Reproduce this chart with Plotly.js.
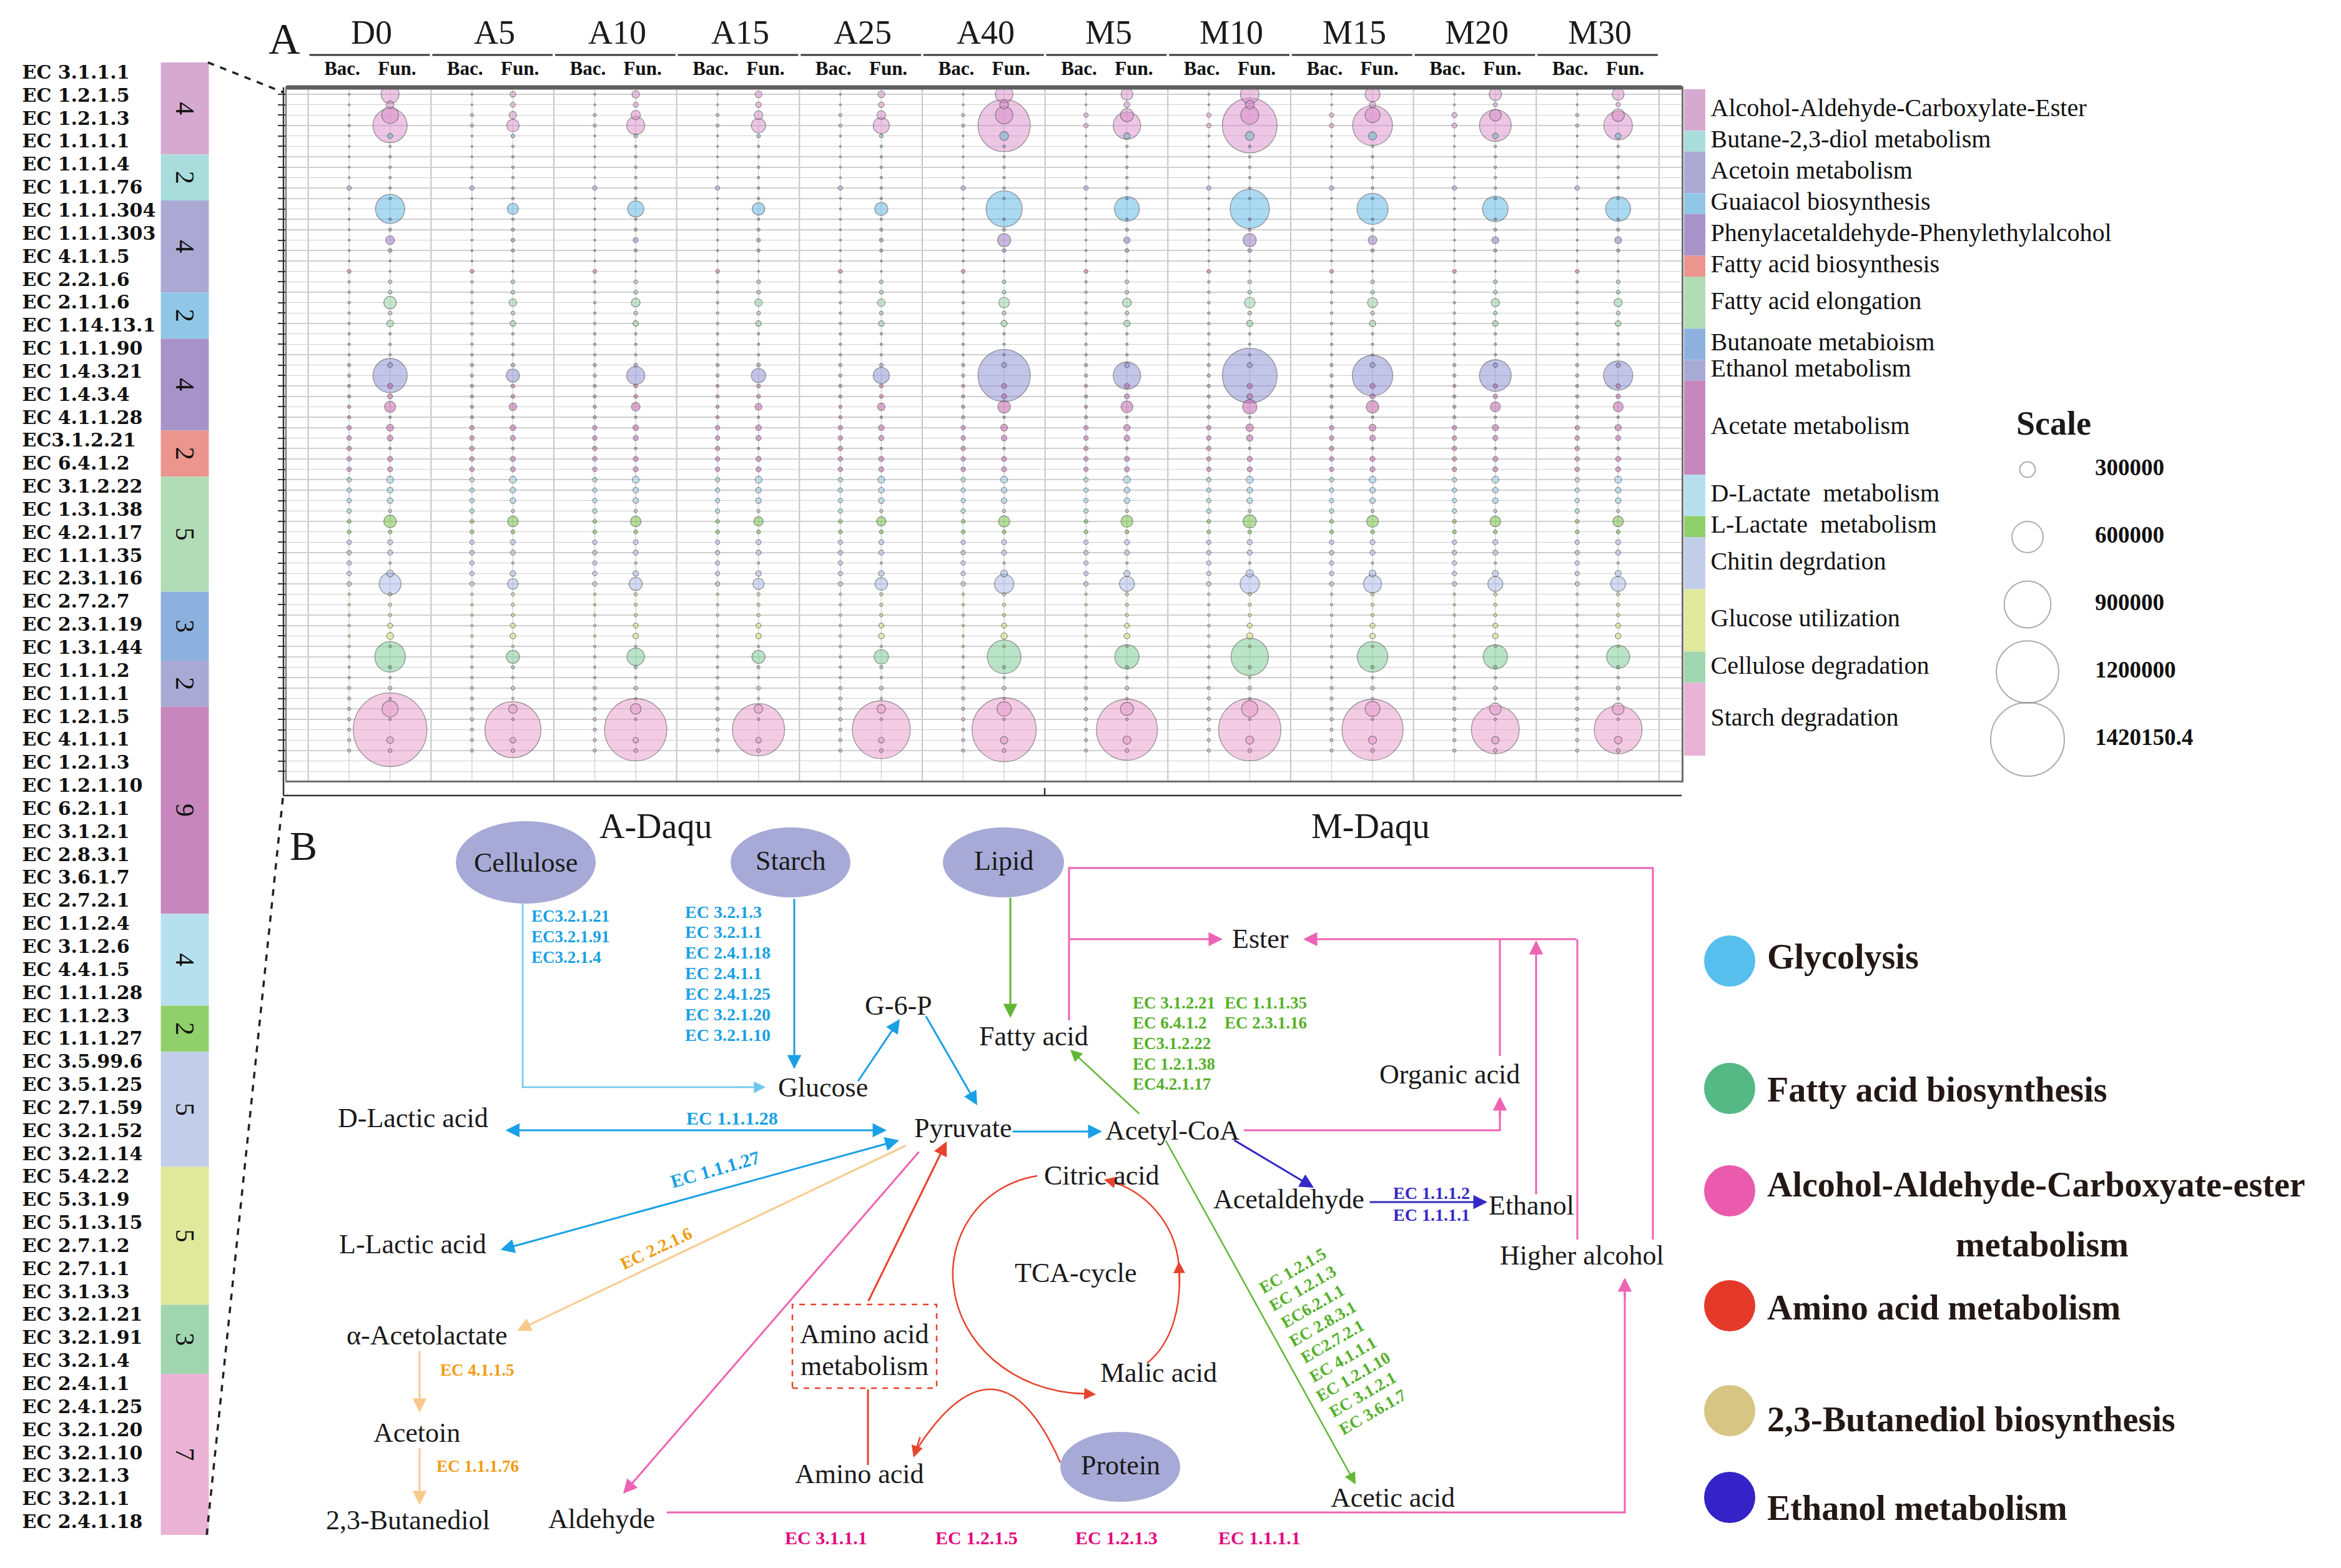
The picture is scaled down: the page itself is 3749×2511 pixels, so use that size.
<!DOCTYPE html>
<html><head><meta charset="utf-8">
<script src="https://cdn.plot.ly/plotly-3.0.1.min.js"></script>
<style>html,body{margin:0;padding:0;background:#fff}</style>
</head><body><div id="chart" style="width:3749px;height:2511px"></div>
<script>
// ===================== DATA =====================
const samples = ['D0','A5','A10','A15','A25','A40','M5','M10','M15','M20','M30'];
const fractionLabels = ['Bac.','Fun.'];
const daquGroups = ['A-Daqu','M-Daqu'];

const ecLabels = ['EC 3.1.1.1','EC 1.2.1.5','EC 1.2.1.3','EC 1.1.1.1','EC 1.1.1.4','EC 1.1.1.76','EC 1.1.1.304','EC 1.1.1.303','EC 4.1.1.5','EC 2.2.1.6',
 'EC 2.1.1.6','EC 1.14.13.1','EC 1.1.1.90','EC 1.4.3.21','EC 1.4.3.4','EC 4.1.1.28','EC3.1.2.21','EC 6.4.1.2','EC 3.1.2.22','EC 1.3.1.38',
 'EC 4.2.1.17','EC 1.1.1.35','EC 2.3.1.16','EC 2.7.2.7','EC 2.3.1.19','EC 1.3.1.44','EC 1.1.1.2','EC 1.1.1.1','EC 1.2.1.5','EC 4.1.1.1',
 'EC 1.2.1.3','EC 1.2.1.10','EC 6.2.1.1','EC 3.1.2.1','EC 2.8.3.1','EC 3.6.1.7','EC 2.7.2.1','EC 1.1.2.4','EC 3.1.2.6','EC 4.4.1.5',
 'EC 1.1.1.28','EC 1.1.2.3','EC 1.1.1.27','EC 3.5.99.6','EC 3.5.1.25','EC 2.7.1.59','EC 3.2.1.52','EC 3.2.1.14','EC 5.4.2.2','EC 5.3.1.9',
 'EC 5.1.3.15','EC 2.7.1.2','EC 2.7.1.1','EC 3.1.3.3','EC 3.2.1.21','EC 3.2.1.91','EC 3.2.1.4','EC 2.4.1.1','EC 2.4.1.25','EC 3.2.1.20',
 'EC 3.2.1.10','EC 3.2.1.3','EC 3.2.1.1','EC 2.4.1.18'];

const groupNames = ['Alcohol-Aldehyde-Carboxylate-Ester','Butane-2,3-diol metabolism','Acetoin metabolism','Guaiacol biosynthesis',
 'Phenylacetaldehyde-Phenylethylalcohol','Fatty acid biosynthesis','Fatty acid elongation','Butanoate metabioism','Ethanol metabolism',
 'Acetate metabolism','D-Lactate \u00a0metabolism','L-Lactate \u00a0metabolism','Chitin degrdation','Glucose utilization',
 'Cellulose degradation','Starch degradation'];
const groupCounts = [4,2,4,2,4,2,5,3,2,9,4,2,5,6,3,7];
const groupCountLabels = ['4','2','4','2','4','2','5','3','2','9','4','2','5','5','3','7'];

// bubble values (abundance, in thousands)
const UNIT = 1000;
const D0_Bac  = [36,36,36,48,36,36,36,36,36,84, 36,36,36,36,36,36,36,72,48,48, 48,48,48,48,48,48,60,60,60,60, 60,60,84,84,84,84,84,84,84,84, 84,72,72,84,84,84,84,84,48,48, 48,48,48,48,48,48,48,60,60,60, 60,60,60,60];
const A5_Bac  = [36,36,60,60,36,36,36,36,36,84, 36,36,36,36,36,36,36,72,48,48, 48,48,48,48,48,48,60,60,60,60, 60,60,84,84,84,84,84,84,84,84, 84,72,72,84,84,84,84,84,48,48, 48,48,48,48,48,48,48,60,60,60, 60,60,60,60];
const A10_Bac = [36,36,60,60,36,36,36,36,36,84, 36,36,36,36,36,36,36,72,48,48, 48,48,48,48,48,48,60,60,60,60, 60,60,84,84,84,84,84,84,84,84, 84,72,72,84,84,84,84,84,48,48, 48,48,48,48,48,48,48,60,60,60, 60,60,60,60];
const A15_Bac = [36,36,60,60,36,36,36,36,36,84, 36,36,36,36,36,36,36,72,48,48, 48,48,48,48,48,48,60,60,60,60, 60,60,84,84,84,84,84,84,84,84, 84,72,72,84,84,84,84,84,48,48, 48,48,48,48,48,48,48,60,60,60, 60,60,60,60];
const A25_Bac = [36,36,60,60,36,36,36,36,36,84, 36,36,36,36,36,36,36,72,48,48, 48,48,48,48,48,48,60,60,60,60, 60,60,84,84,84,84,84,84,84,84, 84,72,72,84,84,84,84,84,48,48, 48,48,48,48,48,48,48,60,60,60, 60,60,60,60];
const A40_Bac = [36,36,60,60,36,36,36,36,36,84, 36,36,36,36,36,36,36,72,48,48, 48,48,48,48,48,48,60,60,60,60, 60,60,84,84,84,84,84,84,84,84, 84,72,72,84,84,84,84,84,48,48, 48,48,48,48,48,48,48,60,60,60, 60,60,60,60];
const M5_Bac  = [36,36,84,84,36,36,36,36,36,84, 36,36,36,36,36,36,36,72,48,48, 48,48,48,48,48,48,60,60,60,60, 60,60,84,84,84,84,84,84,84,84, 84,72,72,84,84,84,84,84,48,48, 48,48,48,48,48,48,48,60,60,60, 60,60,60,60];
const M10_Bac = [36,36,84,84,36,36,36,36,36,84, 36,36,36,36,36,36,36,72,48,48, 48,48,48,48,48,48,60,60,60,60, 60,60,84,84,84,84,84,84,84,84, 84,72,72,84,84,84,84,84,48,48, 48,48,48,48,48,48,48,60,60,60, 60,60,60,60];
const M15_Bac = [36,36,84,84,36,36,36,36,36,84, 36,36,36,36,36,36,36,72,48,48, 48,48,48,48,48,48,60,60,60,60, 60,60,84,84,84,84,84,84,84,84, 84,72,72,84,84,84,84,84,48,48, 48,48,48,48,48,48,48,60,60,60, 60,60,60,60];
const M20_Bac = [36,36,96,96,36,36,36,36,36,84, 36,36,36,36,36,36,36,72,48,48, 48,48,48,48,48,48,60,60,60,60, 60,60,84,84,84,84,84,84,84,84, 84,72,72,84,84,84,84,84,48,48, 48,48,48,48,48,48,48,60,60,60, 60,60,60,60];
const M30_Bac = [36,36,60,60,36,36,36,36,36,84, 36,36,36,36,36,36,36,72,48,48, 48,48,48,48,48,48,60,60,60,60, 60,60,84,84,84,84,84,84,84,84, 84,72,72,84,84,84,84,84,48,48, 48,48,48,48,48,48,48,60,60,60, 60,60,60,60];

const D0_Fun  = [348,144,324,660,96,48,48,48,48,48, 48,564,48,60,168,72,36,36,72,72, 240,72,132,48,48,48,96,660,96,96, 216,48,132,108,48,96,96,132,108,108, 60,240,72,96,96,48,132,420,60,60, 60,96,132,48,588,60,48,72,48,312, 48,1420.1504,132,72];
const A5_Fun  = [108,96,144,240,72,48,48,48,48,48, 48,216,48,60,72,60,36,36,72,72, 144,72,108,48,48,48,72,252,72,72, 144,48,108,96,48,96,96,132,108,108, 60,204,72,96,96,48,108,204,60,60, 60,96,108,48,252,60,48,72,48,168, 48,1080,108,72];
const A10_Fun = [144,96,180,348,72,48,48,48,48,48, 48,312,48,60,96,60,36,36,72,72, 168,72,108,48,48,48,72,348,72,72, 168,48,108,96,48,96,96,132,108,108, 60,204,72,96,96,48,108,252,60,60, 60,96,108,48,336,60,48,72,48,204, 48,1200,108,72];
const A15_Fun = [132,108,168,276,72,48,48,48,48,48, 48,240,48,60,72,60,36,36,72,72, 144,72,108,48,48,48,72,276,72,72, 132,48,108,96,48,96,96,132,108,108, 60,180,72,96,96,48,108,216,60,60, 60,96,108,48,252,60,48,72,48,168, 48,1008,108,72];
const A25_Fun = [132,108,168,312,72,48,48,48,48,48, 48,252,48,60,72,60,36,36,72,72, 144,72,108,48,48,48,72,312,72,72, 144,48,108,96,48,96,96,132,108,108, 60,180,72,96,96,48,108,240,60,60, 60,96,108,48,276,60,48,72,48,168, 48,1116,108,72];
const A40_Fun = [336,168,336,1008,168,48,48,48,48,48, 48,696,48,60,252,72,36,36,72,72, 204,72,120,48,48,48,96,1008,96,96, 240,48,132,108,48,96,96,132,108,108, 60,216,72,96,96,48,132,372,60,60, 60,96,120,48,648,60,48,72,48,276, 48,1236,144,72];
const M5_Fun  = [228,108,252,528,120,48,48,48,48,48, 48,480,48,60,120,72,36,36,72,72, 168,72,120,48,48,48,96,528,96,96, 228,48,120,108,48,96,96,132,108,108, 60,228,72,96,96,48,120,288,60,60, 60,96,108,48,468,60,48,72,48,252, 48,1176,156,72];
const M10_Fun = [360,168,348,1056,168,48,48,48,48,48, 48,756,48,60,252,72,36,36,72,72, 204,72,120,48,48,48,96,1056,96,108, 276,48,144,120,48,96,96,132,108,108, 60,252,72,96,96,48,144,372,60,60, 60,96,120,48,720,60,48,72,48,312, 48,1200,156,72];
const M15_Fun = [288,120,288,768,156,48,48,48,48,48, 48,600,48,60,168,60,36,36,72,72, 192,72,120,48,48,48,96,780,96,96, 240,48,132,108,48,96,96,132,108,108, 60,228,72,96,96,48,132,348,60,60, 60,96,108,48,588,60,48,72,48,288, 48,1176,156,72];
const M20_Fun = [240,84,228,612,108,48,48,48,48,48, 48,492,48,60,132,60,36,36,72,72, 156,72,108,48,48,48,84,612,84,84, 192,48,120,96,48,96,96,132,108,108, 60,204,72,96,96,48,120,288,60,60, 60,96,108,48,468,60,48,72,48,228, 48,924,144,72];
const M30_Fun = [228,84,240,552,108,48,48,48,48,48, 48,480,48,60,132,60,36,36,72,72, 156,72,108,48,48,48,84,564,84,84, 192,48,120,96,48,96,96,132,108,108, 60,204,72,96,96,48,120,288,60,60, 60,96,108,48,444,60,48,72,48,228, 48,924,144,72];

const scaleValues = [300000, 600000, 900000, 1200000, 1420150.4];

const pathwayLegendNames = ['Glycolysis','Fatty acid biosynthesis','Alcohol-Aldehyde-Carboxyate-ester<br>metabolism','Amino acid metabolism','2,3-Butanediol biosynthesis','Ethanol metabolism'];

// ===================== STYLE =====================
const W = 3749, H = 2511;
const SERIF = 'Liberation Serif, Times New Roman, serif';
const groupBoxColors = ['#d6a9d0','#a9dddb','#aba8d4','#90c7e7','#a893c8','#ec948e','#b2dcb5','#8db1de','#a9a9d5','#c787bc','#b7e0ee','#90d06a','#c2cee9','#e0e89c','#9fd6af','#eab3d6'];
const groupBubbleColors = ['#d98fca','#5dc4cf','#9e97d3','#5db5e6','#9576c2','#e4675b','#8fd39f','#7aa0da','#8a8ed3','#c45aa9','#8fd2ea','#6cc23b','#a6b9e8','#d8e46a','#79cb91','#e89bcb'];
const pathwayLegendColors = ['#56bfee','#55b985','#ea5aad','#e5392a','#d6c583','#3523c8'];

const bacSeries = [D0_Bac,A5_Bac,A10_Bac,A15_Bac,A25_Bac,A40_Bac,M5_Bac,M10_Bac,M15_Bac,M20_Bac,M30_Bac];
const funSeries = [D0_Fun,A5_Fun,A10_Fun,A15_Fun,A25_Fun,A40_Fun,M5_Fun,M10_Fun,M15_Fun,M20_Fun,M30_Fun];

const groupStarts = []; let acc = 0;
groupCounts.forEach(c => { groupStarts.push(acc); acc += c; });
const rowGroup = [];
groupCounts.forEach((c, g) => { for (let i = 0; i < c; i++) rowGroup.push(g); });

function hexA(hex, a) {
  const r = parseInt(hex.slice(1,3),16), g = parseInt(hex.slice(3,5),16), b = parseInt(hex.slice(5,7),16);
  return `rgba(${r},${g},${b},${a})`;
}

const pts = [];
samples.forEach((s, k) => {
  [bacSeries[k], funSeries[k]].forEach((arr, f) => {
    arr.forEach((v, r) => pts.push({x: 3*k + 1 + f, y: r, v: v, c: groupBubbleColors[rowGroup[r]]}));
  });
});
pts.sort((a, b) => b.v - a.v);
const maxV = Math.max(...pts.map(p => p.v));
const SIZEREF = maxV / 118;

const tickVals = [], tickText = [];
samples.forEach((s, k) => { fractionLabels.forEach((f, j) => { tickVals.push(3*k + 0.83 + 1.34*j); tickText.push('<b>' + f + '</b>'); }); });

const traces = [];
traces.push({
  type: 'scatter', mode: 'markers', xaxis: 'x', yaxis: 'y', hoverinfo: 'skip',
  x: pts.map(p => p.x), y: pts.map(p => p.y),
  marker: {size: pts.map(p => p.v), sizemode: 'diameter', sizeref: SIZEREF, sizemin: 0,
    color: pts.map(p => hexA(p.c, 0.72)), line: {width: 1.3, color: 'rgba(60,60,60,0.75)'}}
});
traces.push({
  type: 'scatter', mode: 'text', xaxis: 'x2', yaxis: 'y2', hoverinfo: 'skip', cliponaxis: false,
  x: ecLabels.map(() => 0.005), y: ecLabels.map((e, i) => i), text: ecLabels.map(e => '<b>' + e + '</b>'),
  textposition: 'middle right', textfont: {family: 'DejaVu Serif, serif', size: 30, color: '#111'}
});
traces.push({
  type: 'bar', xaxis: 'x2', yaxis: 'y2', hoverinfo: 'skip',
  x: groupCounts.map(() => 0.845), y: groupCounts, base: groupStarts.map(s => s - 0.5), width: 0.248,
  marker: {color: groupBoxColors, line: {width: 0}},
  text: groupCountLabels, textposition: 'inside', insidetextanchor: 'middle', textangle: 90, constraintext: 'none',
  textfont: {family: SERIF, size: 42, color: '#111'}
});
traces.push({
  type: 'bar', xaxis: 'x3', yaxis: 'y3', hoverinfo: 'skip',
  x: groupCounts.map(() => 0), y: groupCounts, base: groupStarts.map(s => s - 0.5), width: 1,
  marker: {color: groupBoxColors, line: {width: 0}}
});
traces.push({
  type: 'scatter', mode: 'text', xaxis: 'x3', yaxis: 'y3', hoverinfo: 'skip', cliponaxis: false,
  x: groupNames.map(() => 0.75), y: groupStarts.map((s, g) => s + (groupCounts[g] - 1) / 2),
  text: groupNames, textposition: 'middle right', textfont: {family: SERIF, size: 40, color: '#111'}
});
traces.push({
  type: 'scatter', mode: 'markers', xaxis: 'x4', yaxis: 'y4', hoverinfo: 'skip', cliponaxis: false,
  x: scaleValues.map(() => 0), y: scaleValues.map((v, i) => i),
  marker: {size: scaleValues.map(v => v / UNIT), sizemode: 'diameter', sizeref: SIZEREF,
    color: 'rgba(255,255,255,0)', line: {width: 2, color: '#8a8a8a'}}
});
traces.push({
  type: 'scatter', mode: 'text', xaxis: 'x4', yaxis: 'y4', hoverinfo: 'skip', cliponaxis: false,
  x: scaleValues.map(() => 2), y: scaleValues.map((v, i) => i), text: scaleValues.map(v => '<b>' + String(v) + '</b>'),
  textposition: 'middle right', textfont: {family: SERIF, size: 37, color: '#111'}
});

// ===================== LAYOUT HELPERS =====================
const X = px => px / W, Y = py => 1 - py / H;
const P = (x, y) => X(x) + ',' + Y(y);
const shapes = [], annos = [];
function line(x1, y1, x2, y2, color, width = 3, dash = 'solid') {
  shapes.push({type: 'line', xref: 'paper', yref: 'paper', x0: X(x1), y0: Y(y1), x1: X(x2), y1: Y(y2), line: {color, width, dash}});
}
function poly(points, color, width = 3, dash = 'solid') {
  shapes.push({type: 'path', xref: 'paper', yref: 'paper', path: 'M' + points.map(p => P(p[0], p[1])).join(' L'), line: {color, width, dash}});
}
function pathD(d, color, width = 3) {
  shapes.push({type: 'path', xref: 'paper', yref: 'paper', path: d, line: {color, width}});
}
function arrow(x1, y1, x2, y2, color, width = 3, both = false) {
  annos.push({xref: 'paper', yref: 'paper', x: X(x2), y: Y(y2), ax: x1 - x2, ay: y1 - y2, axref: 'pixel', ayref: 'pixel',
    showarrow: true, arrowhead: 2, arrowsize: 1.5, arrowwidth: width, arrowcolor: color, arrowside: both ? 'end+start' : 'end',
    startarrowhead: 2, startarrowsize: 1.5, text: '', standoff: 0, startstandoff: 0});
}
function txt(x, y, t, size, color = '#1a1a1a', opts = {}) {
  annos.push({xref: 'paper', yref: 'paper', x: X(x), y: Y(y), text: t, showarrow: false,
    font: {family: SERIF, size, color}, xanchor: opts.xanchor || 'center', yanchor: 'middle', textangle: opts.angle || 0});
}
function ellipse(cx, cy, rx, ry, fill) {
  shapes.push({type: 'circle', xref: 'paper', yref: 'paper', x0: X(cx - rx), x1: X(cx + rx), y0: Y(cy + ry), y1: Y(cy - ry), fillcolor: fill, line: {width: 0}, layer: 'below'});
}

// ===================== PANEL A DECORATION =====================
txt(455, 62, 'A', 70);
samples.forEach((s, k) => {
  annos.push({xref: 'x', yref: 'paper', x: 3*k + 1.55, y: Y(52), text: s, showarrow: false, font: {family: SERIF, size: 54, color: '#1a1a1a'}, yanchor: 'middle'});
  shapes.push({type: 'line', xref: 'x', yref: 'paper', x0: 3*k + 0.03, x1: 3*k + 2.97, y0: Y(88), y1: Y(88), line: {color: '#3a3a3a', width: 3}});
  [1, 2].forEach(j => shapes.push({type: 'line', xref: 'x', yref: 'paper', x0: 3*k + j, x1: 3*k + j, y0: Y(1250), y1: Y(140), line: {color: '#d6d6d6', width: 1.5}, layer: 'below'}));
});
for (let k = 0; k <= samples.length; k++) {
  shapes.push({type: 'line', xref: 'x', yref: 'paper', x0: 3*k, x1: 3*k, y0: Y(1250), y1: Y(140), line: {color: '#c4c4c4', width: 2}, layer: 'below'});
}
line(459, 140, 2693, 140, '#5e5e5e', 7);
line(454, 140, 454, 1274, '#333', 2.5);
line(454, 1274, 2693, 1274, '#333', 2.5);
line(1673, 1262, 1673, 1274, '#333', 2.5);
line(333, 100, 454, 148, '#222', 3.5, 'dash');
line(331, 2458, 454, 1268, '#222', 3.5, 'dash');
txt(3289, 678, '<b>Scale</b>', 54);

// ===================== PANEL B =====================
const cBlue = '#1aa0e4', cBlueL = '#6fc7f0', cOrange = '#f8c98c', cOrangeT = '#f39a12', cPink = '#ee63b3',
      cMag = '#e3087e', cRed = '#e8432d', cGreen = '#62b635', cGreenT = '#55b02a', cInd = '#3428c8', nodeFill = '#a7aad6';

txt(486, 1354, 'B', 66);
txt(1050, 1323, daquGroups[0], 56);
txt(2195, 1323, daquGroups[1], 56);

ellipse(842, 1381, 112, 66, nodeFill);
ellipse(1266, 1381, 96, 56, nodeFill);
ellipse(1607, 1381, 97, 56, nodeFill);
ellipse(1794, 2349, 96, 56, nodeFill);
txt(842, 1381, 'Cellulose', 44); txt(1266, 1378, 'Starch', 44); txt(1607, 1378, 'Lipid', 44); txt(1794, 2346, 'Protein', 44);

poly([[837, 1447], [837, 1741], [1200, 1741]], cBlueL, 2.5);
arrow(1180, 1741, 1226, 1741, cBlueL, 2.5);
arrow(1272, 1438, 1272, 1712, cBlue);
arrow(1373, 1733, 1441, 1632, cBlue);
arrow(1482, 1626, 1565, 1770, cBlue);
arrow(808, 1810, 1420, 1810, cBlue, 3, true);
arrow(800, 2002, 1440, 1826, cBlue, 3, true);
arrow(1620, 1812, 1765, 1812, cBlue);
arrow(1452, 1834, 828, 2131, cOrange);
arrow(672, 2162, 672, 2262, cOrange);
arrow(672, 2318, 672, 2410, cOrange);
arrow(1473, 1843, 998, 2392, cPink);
poly([[1068, 2422], [2602, 2422], [2602, 2070]], cPink);
arrow(2602, 2080, 2602, 2046, cPink);
poly([[1992, 1810], [2402, 1810], [2402, 1780]], cPink);
arrow(2402, 1790, 2402, 1756, cPink);
line(2402, 1691, 2402, 1504, cPink);
arrow(2526, 1504, 2087, 1504, cPink);
arrow(2460, 1914, 2460, 1506, cPink);
line(2526, 1985, 2526, 1504, cPink);
poly([[2647, 1985], [2647, 1390], [1712, 1390], [1712, 1634]], cPink);
arrow(1712, 1504, 1958, 1504, cPink);
arrow(1390, 2085, 1516, 1828, cRed);
line(1390, 2225, 1390, 2346, cRed);
shapes.push({type: 'rect', xref: 'paper', yref: 'paper', x0: X(1269), x1: X(1500), y0: Y(2223), y1: Y(2089), line: {color: cRed, width: 2.5, dash: 'dash'}});
pathD(`M${P(1698, 2342)} Q${P(1600, 2120)} ${P(1470, 2318)}`, cRed, 2.5);
arrow(1474, 2300, 1463, 2334, cRed, 2.5);
pathD(`M${P(1661, 1883)} C${P(1560, 1900)} ${P(1518, 1990)} ${P(1527, 2058)} C${P(1536, 2150)} ${P(1620, 2228)} ${P(1735, 2232)}`, cRed, 2.5);
arrow(1720, 2231, 1755, 2233, cRed, 2.5);
pathD(`M${P(1837, 2183)} C${P(1878, 2150)} ${P(1893, 2090)} ${P(1888, 2027)} C${P(1882, 1955)} ${P(1830, 1905)} ${P(1775, 1891)}`, cRed, 2.5);
arrow(1889, 2060, 1888, 2020, cRed, 2.5);
arrow(1800, 1897, 1768, 1889, cRed, 2.5);
arrow(1618, 1436, 1618, 1630, cGreen);
arrow(1826, 1785, 1714, 1681, cGreen, 2.5);
arrow(1866, 1825, 2171, 2377, cGreen, 2.5);
arrow(1975, 1825, 2104, 1902, cInd);
arrow(2192, 1925, 2382, 1925, cInd);

[['Glucose', 1318, 1742], ['G-6-P', 1439, 1611], ['Pyruvate', 1542, 1806], ['Acetyl-CoA', 1877, 1810], ['Fatty acid', 1655, 1659],
 ['Ester', 2018, 1503], ['Organic acid', 2321, 1720], ['Acetaldehyde', 2064, 1920], ['Ethanol', 2452, 1930], ['Higher alcohol', 2533, 2011],
 ['D-Lactic acid', 661, 1790], ['L-Lactic acid', 661, 1992], ['α-Acetolactate', 684, 2138], ['Acetoin', 667, 2294], ['2,3-Butanediol', 653, 2434],
 ['Aldehyde', 963, 2432], ['Amino acid', 1376, 2360], ['Amino acid', 1384, 2136], ['metabolism', 1384, 2187], ['Citric acid', 1764, 1882],
 ['TCA-cycle', 1722, 2039], ['Malic acid', 1855, 2198], ['Acetic acid', 2230, 2398]].forEach(n => txt(n[1], n[2], n[0], 44));

const ecb = s => '<b>' + s + '</b>';
['EC3.2.1.21', 'EC3.2.1.91', 'EC3.2.1.4'].forEach((e, i) => txt(849, 1467 + 33 * i, ecb(e), 27, cBlue, {xanchor: 'left'}));
['EC 3.2.1.3', 'EC 3.2.1.1', 'EC 2.4.1.18', 'EC 2.4.1.1', 'EC 2.4.1.25', 'EC 3.2.1.20', 'EC 3.2.1.10'].forEach((e, i) => txt(1095, 1460 + 32.9 * i, ecb(e), 28, cBlue, {xanchor: 'left'}));
txt(1172, 1790, ecb('EC 1.1.1.28'), 30, cBlue);
txt(1145, 1873, ecb('EC 1.1.1.27'), 30, cBlue, {angle: -16});
txt(1050, 1999, ecb('EC 2.2.1.6'), 28, cOrangeT, {angle: -25});
txt(764, 2194, ecb('EC 4.1.1.5'), 27, cOrangeT);
txt(765, 2348, ecb('EC 1.1.1.76'), 27, cOrangeT);
['EC 3.1.2.21', 'EC 6.4.1.2', 'EC3.1.2.22', 'EC 1.2.1.38', 'EC4.2.1.17'].forEach((e, i) => txt(1812, 1606 + 32.5 * i, ecb(e), 27, cGreenT, {xanchor: 'left'}));
['EC 1.1.1.35', 'EC 2.3.1.16'].forEach((e, i) => txt(1959, 1606 + 32.5 * i, ecb(e), 27, cGreenT, {xanchor: 'left'}));
txt(2292, 1910, ecb('EC 1.1.1.2'), 28, cInd);
txt(2292, 1945, ecb('EC 1.1.1.1'), 28, cInd);
['EC 1.2.1.5', 'EC 1.2.1.3', 'EC6.2.1.1', 'EC 2.8.3.1', 'EC2.7.2.1', 'EC 4.1.1.1', 'EC 1.2.1.10', 'EC 3.1.2.1', 'EC 3.6.1.7'].forEach((e, i) =>
  txt(2070 + 16.1 * i, 2035 + 28.3 * i, ecb(e), 27, cGreenT, {angle: -30}));
[['EC 3.1.1.1', 1323], ['EC 1.2.1.5', 1564], ['EC 1.2.1.3', 1788], ['EC 1.1.1.1', 2017]].forEach(e => txt(e[1], 2462, ecb(e[0]), 30, cMag));

const legY = [1539, 1743, 1907, 2091, 2259, 2398];
const legTextY = [1532, 1745, 1897, 2094, 2273, 2415];
pathwayLegendNames.forEach((n, i) => {
  ellipse(2770, legY[i], 41, 41, pathwayLegendColors[i]);
  const parts = n.split('<br>');
  txt(2828, legTextY[i], '<b>' + parts[0] + '</b>', 56, '#231815', {xanchor: 'left'});
  if (parts[1]) txt(3270, 1993, '<b>' + parts[1] + '</b>', 56, '#231815');
});

// ===================== LAYOUT =====================
const legendBoxPx = 34;
const layout = {
  width: W, height: H, margin: {l: 0, r: 0, t: 0, b: 0}, paper_bgcolor: '#fff', plot_bgcolor: 'rgba(0,0,0,0)',
  showlegend: false, barmode: 'overlay', font: {family: SERIF},
  xaxis: {domain: [459 / W, 2693 / W], range: [-0.528, 33.55], side: 'top', tickmode: 'array', tickvals: tickVals, ticktext: tickText,
    ticks: '', showgrid: false, showline: true, mirror: true, linecolor: '#6e6e6e', linewidth: 2.5,
    zeroline: false, tickfont: {family: SERIF, size: 31, color: '#111'}, ticklabelstandoff: 5, anchor: 'y', fixedrange: true},
  yaxis: {domain: [1 - 1250 / H, 1 - 140 / H], range: [65.88, -0.66], tickmode: 'linear', tick0: 0, dtick: 1, ticks: 'outside', ticklen: 12,
    tickwidth: 2, tickcolor: '#333', showticklabels: false, showgrid: true, gridcolor: '#d0d0d0', gridwidth: 1.5, showline: true, mirror: true,
    linecolor: '#6e6e6e', linewidth: 2.5, zeroline: false, anchor: 'x', fixedrange: true},
  xaxis2: {domain: [34 / W, 344 / W], range: [0, 1], visible: false, anchor: 'y2'},
  yaxis2: {domain: [1 - 2458 / H, 1 - 100 / H], range: [63.5, -0.5], visible: false, anchor: 'x2'},
  xaxis3: {domain: [2697 / W, 3240 / W], range: [-0.5, -0.5 + (3240 - 2697) / legendBoxPx], visible: false, anchor: 'y3'},
  yaxis3: {domain: [1 - 1250 / H, 1 - 140 / H], range: [65.88, -0.66], visible: false, anchor: 'x3'},
  xaxis4: {domain: [3193 / W, 3625 / W], range: [-1, 7], visible: false, anchor: 'y4'},
  yaxis4: {domain: [1 - 1248.8 / H, 1 - 698 / H], range: [4.6, -0.5], visible: false, anchor: 'x4'},
  shapes: shapes, annotations: annos
};
Plotly.newPlot('chart', traces, layout, {displayModeBar: false, staticPlot: true});
</script></body></html>
